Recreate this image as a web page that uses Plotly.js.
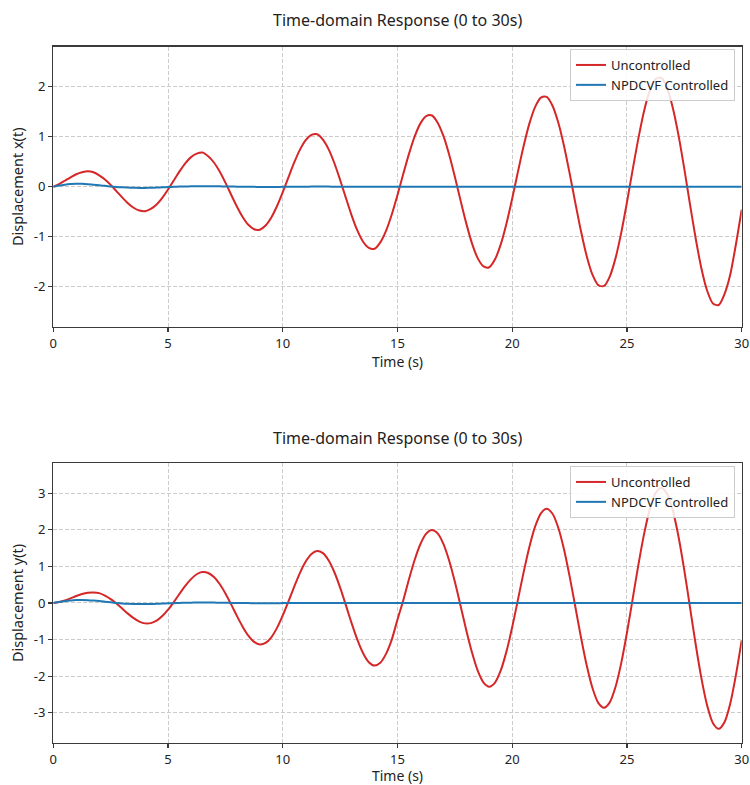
<!DOCTYPE html>
<html>
<head>
<meta charset="utf-8">
<script src="https://cdn.plot.ly/plotly-3.0.1.min.js"></script>
<style>
  html, body { margin: 0; padding: 0; background: #fff; }
  #chart { width: 750px; height: 785px; }
</style>
</head>
<body>
<div id="chart"></div>
<script>
// Sample times (s), 0.25 s step
const time = [
  0, 0.25, 0.5, 0.75, 1, 1.25, 1.5, 1.75, 2, 2.25,
  2.5, 2.75, 3, 3.25, 3.5, 3.75, 4, 4.25, 4.5, 4.75,
  5, 5.25, 5.5, 5.75, 6, 6.25, 6.5, 6.75, 7, 7.25,
  7.5, 7.75, 8, 8.25, 8.5, 8.75, 9, 9.25, 9.5, 9.75,
  10, 10.25, 10.5, 10.75, 11, 11.25, 11.5, 11.75, 12, 12.25,
  12.5, 12.75, 13, 13.25, 13.5, 13.75, 14, 14.25, 14.5, 14.75,
  15, 15.25, 15.5, 15.75, 16, 16.25, 16.5, 16.75, 17, 17.25,
  17.5, 17.75, 18, 18.25, 18.5, 18.75, 19, 19.25, 19.5, 19.75,
  20, 20.25, 20.5, 20.75, 21, 21.25, 21.5, 21.75, 22, 22.25,
  22.5, 22.75, 23, 23.25, 23.5, 23.75, 24, 24.25, 24.5, 24.75,
  25, 25.25, 25.5, 25.75, 26, 26.25, 26.5, 26.75, 27, 27.25,
  27.5, 27.75, 28, 28.25, 28.5, 28.75, 29, 29.25, 29.5, 29.75,
  30
];

// Displacement x(t), uncontrolled
const xUncontrolled = [
  0, 0.05, 0.119, 0.189, 0.249, 0.288, 0.308, 0.29, 0.228, 0.145,
  0.036, -0.088, -0.214, -0.330, -0.421, -0.476, -0.49, -0.445, -0.355, -0.222,
  -0.057, 0.125, 0.306, 0.468, 0.592, 0.663, 0.685, 0.610, 0.484, 0.303,
  0.081, -0.160, -0.397, -0.605, -0.762, -0.850, -0.860, -0.776, -0.615, -0.385,
  -0.107, 0.193, 0.485, 0.741, 0.931, 1.037, 1.050, 0.943, 0.747, 0.469,
  0.135, -0.223, -0.572, -0.874, -1.100, -1.223, -1.240, -1.112, -0.881, -0.556,
  -0.166, 0.252, 0.656, 1.007, 1.267, 1.410, 1.425, 1.281, 1.016, 0.645,
  0.199, -0.278, -0.738, -1.137, -1.433, -1.595, -1.610, -1.452, -1.154, -0.735,
  -0.234, 0.301, 0.818, 1.267, 1.598, 1.782, 1.795, 1.624, 1.293, 0.829,
  0.272, -0.322, -0.896, -1.394, -1.762, -1.967, -1.985, -1.797, -1.433, -0.923,
  -0.312, 0.341, 0.972, 1.521, 1.925, 2.153, 2.175, 1.972, 1.576, 1.021,
  0.355, -0.358, -1.045, -1.645, -2.086, -2.337, -2.365, -2.148, -1.76, -1.15,
  -0.46
];

// Displacement x(t), NPDCVF controlled
const xControlled = [
  0, 0.022, 0.04, 0.052, 0.058, 0.057, 0.05, 0.04, 0.03, 0.017,
  0.005, -0.005, -0.013, -0.018, -0.022, -0.024, -0.024, -0.022, -0.018, -0.013,
  -0.008, -0.003, 0.002, 0.005, 0.008, 0.009, 0.010, 0.010, 0.009, 0.007,
  0.005, 0.003, 0.001, -0.001, -0.002, -0.003, -0.004, -0.004, -0.004, -0.004,
  -0.003, -0.002, -0.001, 0, 0.001, 0.002, 0.002, 0.002, 0.002, 0.001,
  0.001, 0, 0, 0, 0, 0, 0, 0, 0, 0,
  0, 0, 0, 0, 0, 0, 0, 0, 0, 0,
  0, 0, 0, 0, 0, 0, 0, 0, 0, 0,
  0, 0, 0, 0, 0, 0, 0, 0, 0, 0,
  0, 0, 0, 0, 0, 0, 0, 0, 0, 0,
  0, 0, 0, 0, 0, 0, 0, 0, 0, 0,
  0, 0, 0, 0, 0, 0, 0, 0, 0, 0,
  0
];

// Displacement y(t), uncontrolled
const yUncontrolled = [
  0, 0.025, 0.07, 0.128, 0.19, 0.245, 0.28, 0.29, 0.27, 0.20,
  0.105, -0.016, -0.152, -0.291, -0.415, -0.508, -0.557, -0.550, -0.483, -0.358,
  -0.184, 0.026, 0.252, 0.469, 0.654, 0.786, 0.845, 0.821, 0.710, 0.519,
  0.262, -0.037, -0.352, -0.647, -0.894, -1.064, -1.134, -1.092, -0.937, -0.680,
  -0.341, 0.048, 0.451, 0.826, 1.134, 1.342, 1.422, 1.363, 1.164, 0.841,
  0.420, -0.059, -0.551, -1.004, -1.374, -1.619, -1.711, -1.634, -1.391, -1.002,
  -0.45, 0.070, 0.650, 1.183, 1.614, 1.897, 1.999, 1.905, 1.618, 1.162,
  0.578, -0.081, -0.750, -1.361, -1.854, -2.175, -2.288, -2.176, -1.845, -1.323,
  -0.657, 0.092, 0.850, 1.540, 2.093, 2.453, 2.577, 2.447, 2.072, 1.484,
  0.735, -0.102, -0.949, -1.718, -2.333, -2.731, -2.865, -2.718, -2.299, -1.645,
  -0.814, 0.114, 1.049, 1.896, 2.573, 3.009, 3.154, 2.989, 2.526, 1.806,
  0.893, -0.124, -1.149, -2.075, -2.813, -3.287, -3.442, -3.260, -2.753, -1.967,
  -1.02
];

// Displacement y(t), NPDCVF controlled
const yControlled = [
  0, 0.027, 0.05, 0.068, 0.08, 0.083, 0.078, 0.068, 0.055, 0.037,
  0.018, 0.002, -0.012, -0.021, -0.026, -0.028, -0.028, -0.026, -0.022, -0.016,
  -0.01, -0.004, 0.002, 0.007, 0.01, 0.012, 0.013, 0.012, 0.011, 0.009,
  0.006, 0.003, 0.001, -0.001, -0.003, -0.004, -0.005, -0.005, -0.005, -0.004,
  -0.003, -0.002, -0.001, 0, 0.001, 0.002, 0.002, 0.002, 0.002, 0.001,
  0.001, 0, 0, 0, 0, 0, 0, 0, 0, 0,
  0, 0, 0, 0, 0, 0, 0, 0, 0, 0,
  0, 0, 0, 0, 0, 0, 0, 0, 0, 0,
  0, 0, 0, 0, 0, 0, 0, 0, 0, 0,
  0, 0, 0, 0, 0, 0, 0, 0, 0, 0,
  0, 0, 0, 0, 0, 0, 0, 0, 0, 0,
  0, 0, 0, 0, 0, 0, 0, 0, 0, 0,
  0
];

// Axis ticks
const xTicks = [0, 5, 10, 15, 20, 25, 30];
const xTickText = ['0', '5', '10', '15', '20', '25', '30'];
const yTicksTop = [-2, -1, 0, 1, 2];
const yTickTextTop = ['-2', '-1', '0', '1', '2'];
const yTicksBottom = [-3, -2, -1, 0, 1, 2, 3];
const yTickTextBottom = ['-3', '-2', '-1', '0', '1', '2', '3'];

const seriesNames = ['Uncontrolled', 'NPDCVF Controlled'];
const panelTitle = 'Time-domain Response (0 to 30s)';

const RED = '#d62728';
const BLUE = '#1f77b4';
const FONT = 'Noto Sans, Open Sans, DejaVu Sans, sans-serif';
const AXIS_COLOR = '#3a3a3a';
const TEXT_COLOR = '#222';
const GRID_COLOR = '#cccccc';

function lineTrace(y, name, color, xa, ya, legend) {
  return {
    x: time, y: y, name: name, type: 'scatter', mode: 'lines',
    xaxis: xa, yaxis: ya, legend: legend,
    line: { color: color, width: 2, shape: 'spline', smoothing: 0.8 },
    hoverinfo: 'skip'
  };
}

const traces = [
  lineTrace(xUncontrolled, seriesNames[0], RED, 'x', 'y', 'legend'),
  lineTrace(xControlled, seriesNames[1], BLUE, 'x', 'y', 'legend'),
  lineTrace(yUncontrolled, seriesNames[0], RED, 'x2', 'y2', 'legend2'),
  lineTrace(yControlled, seriesNames[1], BLUE, 'x2', 'y2', 'legend2')
];

function xAxis() {
  return {
    domain: [0.0711, 0.9889],
    range: [0, 30],
    tickmode: 'array', tickvals: xTicks, ticktext: xTickText,
    ticks: 'outside', ticklen: 4, tickwidth: 1.2, tickcolor: AXIS_COLOR,
    showline: true, mirror: true, linecolor: AXIS_COLOR, linewidth: 1.3,
    showgrid: true, gridcolor: GRID_COLOR, gridwidth: 1, griddash: '4px,2px',
    zeroline: false,
    tickfont: { family: FONT, size: 13, color: TEXT_COLOR },
    title: { text: 'Time (s)', font: { family: FONT, size: 14, color: TEXT_COLOR }, standoff: 5 }
  };
}

function yAxis(domain, range, vals, text, label) {
  return {
    domain: domain,
    range: range,
    tickmode: 'array', tickvals: vals, ticktext: text,
    ticks: 'outside', ticklen: 4, tickwidth: 1.2, tickcolor: AXIS_COLOR,
    showline: true, mirror: true, linecolor: AXIS_COLOR, linewidth: 1.3,
    showgrid: true, gridcolor: GRID_COLOR, gridwidth: 1, griddash: '4px,2px',
    zeroline: false,
    tickfont: { family: FONT, size: 13, color: TEXT_COLOR },
    title: { text: label, font: { family: FONT, size: 14.5, color: TEXT_COLOR }, standoff: 6 }
  };
}

function legendBox(yTop) {
  return {
    x: 0.98, xanchor: 'right', y: yTop, yanchor: 'top',
    bgcolor: 'rgba(255,255,255,0.85)', bordercolor: '#cccccc', borderwidth: 1,
    font: { family: FONT, size: 13, color: TEXT_COLOR },
    tracegroupgap: 0, itemwidth: 30
  };
}

const layout = {
  width: 750, height: 785,
  margin: { l: 0, r: 0, t: 0, b: 0 },
  paper_bgcolor: '#ffffff', plot_bgcolor: '#ffffff',
  font: { family: FONT, color: TEXT_COLOR },
  showlegend: true,
  xaxis: Object.assign(xAxis(), { anchor: 'y' }),
  yaxis: Object.assign(yAxis([0.5838, 0.9405], [-2.8, 2.8], yTicksTop, yTickTextTop, 'Displacement x(t)'), { anchor: 'x' }),
  xaxis2: Object.assign(xAxis(), { anchor: 'y2' }),
  yaxis2: Object.assign(yAxis([0.0539, 0.4098], [-3.82, 3.82], yTicksBottom, yTickTextBottom, 'Displacement y(t)'), { anchor: 'x2' }),
  legend: legendBox(1 - 49 / 785),
  legend2: legendBox(1 - 466 / 785),
  annotations: [
    { text: panelTitle, xref: 'paper', yref: 'paper', x: 0.53, y: 1 - 20 / 785,
      xanchor: 'center', yanchor: 'middle', showarrow: false,
      font: { family: FONT, size: 16, color: TEXT_COLOR } },
    { text: panelTitle, xref: 'paper', yref: 'paper', x: 0.53, y: 1 - 438 / 785,
      xanchor: 'center', yanchor: 'middle', showarrow: false,
      font: { family: FONT, size: 16, color: TEXT_COLOR } }
  ]
};

Plotly.newPlot('chart', traces, layout, { staticPlot: true, displayModeBar: false });
</script>
</body>
</html>
